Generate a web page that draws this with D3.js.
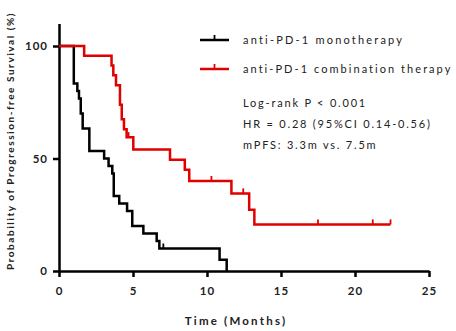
<!DOCTYPE html>
<html>
<head>
<meta charset="utf-8">
<script src="https://d3js.org/d3.v7.min.js"></script>
<style>
  body { margin: 0; background: #fff; }
  text { font-family: Lato, "Open Sans", sans-serif; fill: #222; }
</style>
</head>
<body>
<svg width="456" height="331"></svg>
<script>
// step curves (time in months, survival %)
const monoTimes = [0, 1.0, 1.24, 1.35, 1.47, 1.6, 2.05, 3.05, 3.35, 3.6, 3.7, 4.07, 4.6, 4.95, 5.7, 6.6, 6.78, 10.85, 11.33];
const monoSurv  = [100, 83.3, 80, 76.7, 70, 63.3, 53.3, 50, 46.7, 43.3, 33.3, 30, 26.7, 20, 16.7, 13.3, 10, 5, 0];
const monoCensor = [7.05];

const comboTimes = [0, 1.7, 3.55, 3.67, 3.85, 4.12, 4.24, 4.39, 4.57, 5.02, 7.5, 8.5, 8.8, 11.65, 12.85, 13.2];
const comboSurv  = [100, 95.7, 91.3, 87, 82.6, 73.9, 67.4, 63, 59.5, 54, 49.5, 45, 40, 34.5, 27.2, 20.7];
const comboCensor = [4.7, 10.3, 12.45, 17.5, 21.2, 22.4];
const comboEnd = 22.4;

const xTicks = [0, 5, 10, 15, 20, 25];
const yTicks = [0, 50, 100];
const seriesNames = ["anti-PD-1 monotherapy", "anti-PD-1 combination therapy"];
const statLines = ["Log-rank P < 0.001", "HR = 0.28 (95%CI 0.14-0.56)", "mPFS: 3.3m vs. 7.5m"];

const svg = d3.select("svg");
const x = d3.scaleLinear().domain([0, 25]).range([59, 429]);
const y = d3.scaleLinear().domain([0, 110]).range([271, 23.5]);

// axes
const xAxis = svg.append("g").attr("transform", "translate(0,271)")
    .call(d3.axisBottom(x).tickValues(xTicks).tickSize(6).tickPadding(10).tickSizeOuter(0));
const yAxis = svg.append("g").attr("transform", "translate(59,0)")
    .call(d3.axisLeft(y).tickValues(yTicks).tickSize(6).tickPadding(5).tickSizeOuter(0));
[xAxis, yAxis].forEach(a => {
    a.select(".domain").attr("stroke", "#000").attr("stroke-width", 2.5);
    a.selectAll(".tick line").attr("stroke", "#000").attr("stroke-width", 2.5);
    a.selectAll(".tick text").style("font-size", "11.5px").style("font-weight", "bold")
        .style("letter-spacing", "1px").attr("fill", "#111");
});

svg.append("text").attr("x", 236).attr("y", 325).attr("text-anchor", "middle")
    .style("font-size", "11.5px").style("font-weight", "bold").style("letter-spacing", "2.2px")
    .text("Time (Months)");
svg.append("text").attr("transform", "translate(14,141) rotate(-90)").attr("text-anchor", "middle")
    .style("font-size", "10px").style("letter-spacing", "1.55px").style("font-weight", "bold")
    .text("Probability of Progression-free Survival (%)");

function steps(times, surv, end) {
    const pts = times.map((t, i) => [t, surv[i]]);
    if (end !== undefined) pts.push([end, surv[surv.length - 1]]);
    return pts;
}
function survAt(times, surv, t) {
    let s = surv[0];
    times.forEach((tt, i) => { if (tt <= t) s = surv[i]; });
    return s;
}
const line = d3.line().x(d => x(d[0])).y(d => y(d[1])).curve(d3.curveStepAfter);

function drawCurve(times, surv, end, censor, color) {
    svg.append("path").datum(steps(times, surv, end))
        .attr("d", line).attr("fill", "none").attr("stroke", color).attr("stroke-width", 2.5);
    svg.selectAll(null).data(censor).enter().append("line")
        .attr("x1", d => x(d)).attr("x2", d => x(d))
        .attr("y1", d => y(survAt(times, surv, d)))
        .attr("y2", d => y(survAt(times, surv, d)) - 5)
        .attr("stroke", color).attr("stroke-width", 1.8);
}
drawCurve(monoTimes, monoSurv, undefined, monoCensor, "#000");
drawCurve(comboTimes, comboSurv, comboEnd, comboCensor, "#e00000");

// legend
const colors = ["#000", "#e00000"];
const legY = [40, 69];
seriesNames.forEach((name, i) => {
    svg.append("line").attr("x1", 200).attr("x2", 229).attr("y1", legY[i]).attr("y2", legY[i])
        .attr("stroke", colors[i]).attr("stroke-width", 2.5);
    svg.append("line").attr("x1", 214.5).attr("x2", 214.5).attr("y1", legY[i]).attr("y2", legY[i] - 5)
        .attr("stroke", colors[i]).attr("stroke-width", 1.8);
    svg.append("text").attr("x", 243).attr("y", legY[i] + 4)
        .style("font-size", "11px").style("letter-spacing", i === 0 ? "2.2px" : "2.05px").text(name);
});
statLines.forEach((s, i) => {
    svg.append("text").attr("x", 243).attr("y", 106.5 + i * 21.3)
        .style("font-size", "11px").style("letter-spacing", "1.8px").text(s);
});
</script>
</body>
</html>
